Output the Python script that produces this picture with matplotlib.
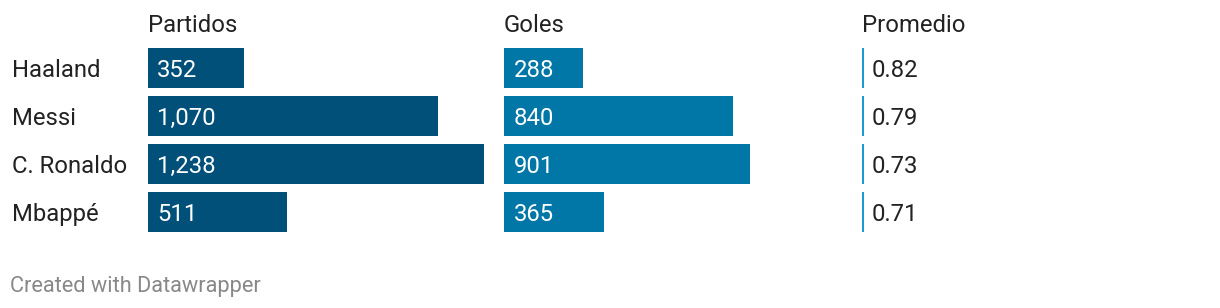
import matplotlib
matplotlib.use("Agg")
import matplotlib.pyplot as plt
from matplotlib.transforms import offset_copy

players = ["Haaland", "Messi", "C. Ronaldo", "Mbappé"]
partidos = [352, 1070, 1238, 511]
goles = [288, 840, 901, 365]
promedio = [0.82, 0.79, 0.73, 0.71]
headers = ["Partidos", "Goles", "Promedio"]

plt.rcParams['font.family'] = ['Roboto', 'DejaVu Sans']

W, H = 1220, 308
fig = plt.figure(figsize=(W / 100, H / 100), dpi=100)

def add_ax(x0, width, top=44, bottom=236):
    return fig.add_axes([x0 / W, 1 - bottom / H, width / W, (bottom - top) / H])

n = len(players)
ypos = list(range(n))
barh = 40 / 48
size = 17.2
txt = "#222222"
base_off = -9  # baseline offset in px below bar center

def setup(ax, xmax):
    ax.set_xlim(0, xmax)
    ax.set_ylim(n - 0.5, -0.5)
    ax.axis("off")

ax1 = add_ax(148, 336)
ax1.barh(ypos, partidos, height=barh, color="#00507a")
setup(ax1, 1238)
tr1 = offset_copy(ax1.transData, fig=fig, x=9, y=base_off, units="dots")
for i, v in enumerate(partidos):
    ax1.text(0, i, f"{v:,}", color="white", fontsize=size, va="baseline", ha="left", transform=tr1)

ax2 = add_ax(504, 336)
ax2.barh(ypos, goles, height=barh, color="#0077a6")
setup(ax2, 1232)
tr2 = offset_copy(ax2.transData, fig=fig, x=10, y=base_off, units="dots")
for i, v in enumerate(goles):
    ax2.text(0, i, f"{v:,}", color="white", fontsize=size, va="baseline", ha="left", transform=tr2)

ax3 = add_ax(862, 300)
ax3.barh(ypos, promedio, height=barh, color="#1a9bcf")
setup(ax3, 112)
tr3 = offset_copy(ax3.transData, fig=fig, x=10, y=base_off, units="dots")
for i, v in enumerate(promedio):
    ax3.text(0, i, f"{v:.2f}", color=txt, fontsize=size, va="baseline", ha="left", transform=tr3)

for i, name in enumerate(players):
    ybase = 77 + 48 * i
    fig.text(12 / W, 1 - ybase / H, name, color=txt, fontsize=size, va="baseline", ha="left")

for x, h in zip([148, 504, 862], headers):
    fig.text(x / W, 1 - 32 / H, h, color=txt, fontsize=size, va="baseline", ha="left")

fig.text(10 / W, 1 - 292 / H, "Created with Datawrapper", color="#888888", fontsize=15.7, va="baseline", ha="left")

fig.savefig("out.png", dpi=100)
